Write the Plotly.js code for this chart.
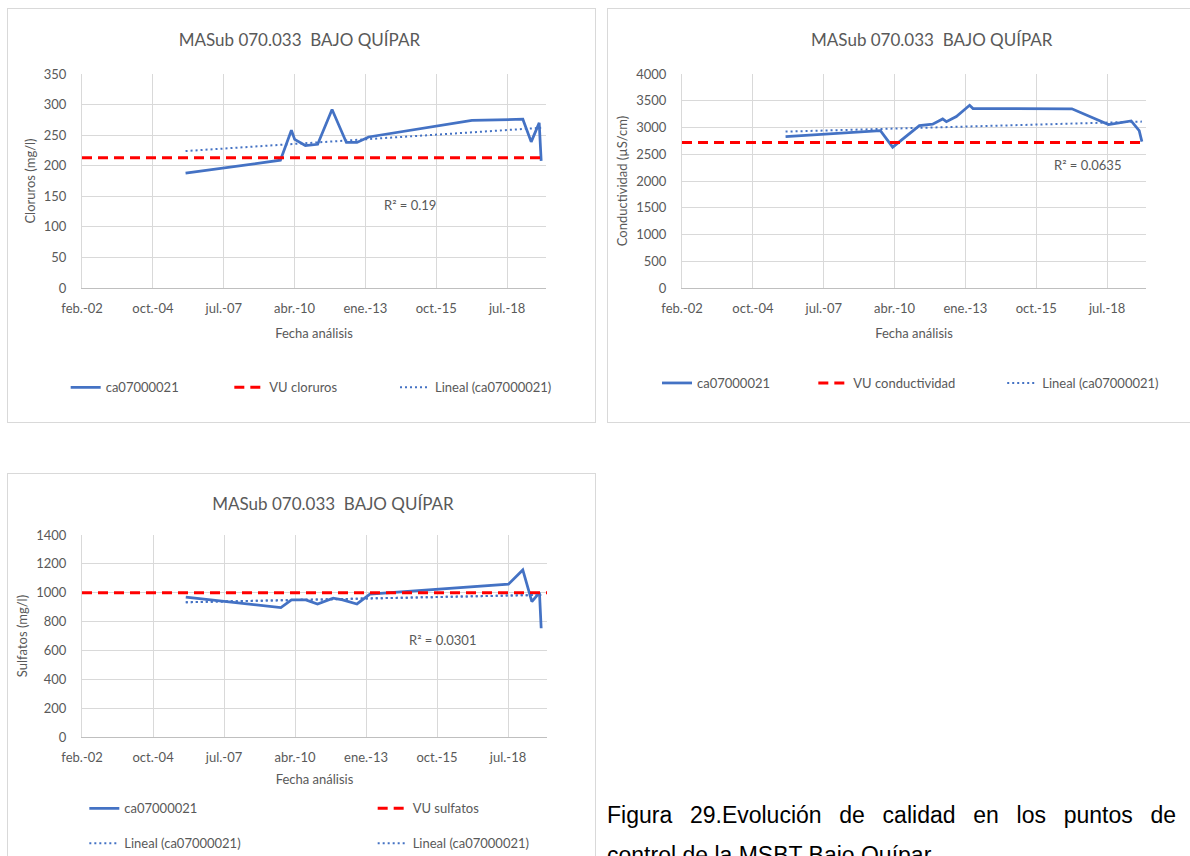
<!DOCTYPE html>
<html><head><meta charset="utf-8">
<script src="https://cdn.plot.ly/plotly-3.0.1.min.js"></script>
<style>
html,body{margin:0;padding:0;width:1190px;height:856px;overflow:hidden;background:#fff;}
.panel{position:absolute;box-sizing:border-box;border:1px solid #d9d9d9;pointer-events:none;}
.chart{position:absolute;}
#caption{position:absolute;left:607px;top:795px;width:569px;font-family:"Liberation Sans",Arial,sans-serif;font-size:23px;line-height:40px;color:#000;}
#caption .l1{text-align:justify;text-align-last:justify;}
</style></head>
<body>
<div id="c1" class="chart" style="left:7px;top:8px;width:588px;height:414px"></div>
<div id="c2" class="chart" style="left:607px;top:8px;width:583px;height:414px"></div>
<div id="c3" class="chart" style="left:7px;top:473px;width:588px;height:383px"></div>
<div class="panel" style="left:7px;top:8px;width:589px;height:415px"></div>
<div class="panel" style="left:607px;top:8px;width:600px;height:415px"></div>
<div class="panel" style="left:7px;top:473px;width:589px;height:400px"></div>
<div id="caption"><div class="l1">Figura 29.Evolución de calidad en los puntos de</div><div>control de la MSBT Bajo Quípar</div></div>
<script>
// ---- shared axis ----
const tickDates = ['2002-02-01','2004-10-28','2007-07-25','2010-04-20','2013-01-14','2015-10-11','2018-07-07'];
const tickLabels = ['feb.-02','oct.-04','jul.-07','abr.-10','ene.-13','oct.-15','jul.-18'];
const axisStart = '2002-01-31';
const axisEnd = '2020-01-07';
const chartTitle = 'MASub 070.033\u00A0 BAJO QUÍPAR';
const seriesName = 'ca07000021';
const trendName = 'Lineal (ca07000021)';
const xTitle = 'Fecha análisis';

// ---- Cloruros ----
const clorDates = ['2006-02-01','2009-10-02','2010-03-06','2010-04-21','2010-09-19','2011-03-12','2011-10-01','2012-04-20','2012-09-17','2013-02-28','2017-02-25','2019-02-14','2019-06-12','2019-10-03','2019-10-31'];
const clorValues = [188,209,258,243,233,235,292,238,238,247,274,276,239,270,208];
const clorLimit = 213;
const clorTrend = [224, 262];
const clorR2 = 'R² = 0.19';

// ---- Conductividad ----
const condDates = ['2006-02-01','2009-10-02','2010-03-24','2011-04-05','2011-10-09','2012-02-28','2012-04-20','2012-09-08','2013-03-14','2013-05-01','2017-02-25','2018-07-27','2019-06-12','2019-10-03','2019-11-10'];
const condValues = [2830,2942,2632,3035,3061,3160,3110,3204,3415,3353,3350,3055,3123,2942,2737];
const condLimit = 2720;
const condTrend = [2923, 3110];
const condR2 = 'R² = 0.0635';

// ---- Sulfatos ----
const sulfDates = ['2006-02-01','2009-10-02','2010-03-01','2010-09-19','2011-03-03','2011-10-09','2012-02-19','2012-09-08','2013-03-10','2018-07-13','2019-01-31','2019-06-08','2019-09-23','2019-10-17'];
const sulfValues = [969,897,950,950,922,962,950,922,990,1059,1158,938,1001,754];
const sulfLimit = 1000;
const sulfTrend = [934, 985];
const sulfR2 = 'R² = 0.0301';

const FONT = 'Lato, "Open Sans", sans-serif';
const GREY = '#595959';
const BLUE = '#4472C4';
const RED = '#FF0000';

function baseLayout(o){
  const legFont = {family:FONT,size:13,color:GREY};
  const lay = {
    width:o.w, height:o.h,
    margin:{l:o.m[0], r:o.m[1], t:o.m[2], b:o.m[3], autoexpand:false},
    paper_bgcolor:'#fff', plot_bgcolor:'#fff',
    font:{family:FONT,size:13,color:GREY},
    title:{text:chartTitle, font:{family:FONT,size:17,color:GREY}, xref:'container', yref:'container', x:o.tx, y:o.ty, xanchor:'center', yanchor:'middle'},
    xaxis:{type:'date', range:[axisStart, axisEnd], tickvals:tickDates, ticktext:tickLabels,
      showgrid:true, gridcolor:'#d9d9d9', gridwidth:1, showline:true, linecolor:'#bfbfbf', linewidth:1,
      zeroline:false, ticks:'outside', ticklen:8, tickcolor:'rgba(0,0,0,0)',
      tickfont:{family:FONT,size:13,color:GREY},
      title:{text:xTitle, font:{family:FONT,size:13,color:GREY}, standoff:o.xs}},
    yaxis:{range:o.yr, dtick:o.dt, tick0:0, showgrid:true, gridcolor:'#d9d9d9', gridwidth:1,
      showline:true, linecolor:'#d9d9d9', linewidth:1, zeroline:false,
      ticks:'outside', ticklen:12, tickcolor:'rgba(0,0,0,0)',
      tickfont:{family:FONT,size:13,color:GREY},
      title:{text:o.yTitle, font:{family:FONT,size:13,color:GREY}, standoff:5}},
    showlegend:true,
    annotations:[{text:o.r2, x:o.r2x, y:o.r2y, xref:'x', yref:'y', showarrow:false,
      font:{family:FONT,size:13,color:GREY}, xanchor:'center', yanchor:'middle'}]
  };
  o.legends.forEach((L,i)=>{
    const key = i===0 ? 'legend' : 'legend'+(i+1);
    lay[key] = {orientation:'h', xref:'container', yref:'container', x:L[0], y:L[1],
      xanchor:'left', yanchor:'middle', font:legFont, bgcolor:'rgba(0,0,0,0)'};
  });
  return lay;
}

function seriesTrace(d,v,leg){return {x:d,y:v,type:'scatter',mode:'lines',name:seriesName,line:{color:BLUE,width:2.75},legend:leg};}
function limitTrace(name,val,leg){return {x:[axisStart,axisEnd],y:[val,val],type:'scatter',mode:'lines',name:name,line:{color:RED,width:3,dash:'10px,6px'},legend:leg};}
function trendTrace(d,t,leg){return {x:[d[0],d[d.length-1]],y:t,type:'scatter',mode:'lines',name:trendName,line:{color:BLUE,width:2,dash:'2px,3px'},legend:leg};}

const cfg = {displayModeBar:false, staticPlot:true};

// Chart 1
Plotly.newPlot('c1', [
  seriesTrace(clorDates, clorValues, 'legend'),
  limitTrace('VU cloruros', clorLimit, 'legend2'),
  trendTrace(clorDates, clorTrend, 'legend3')
], baseLayout({w:588,h:414,m:[75,49,66,134],tx:0.4973,ty:0.9227,yr:[0,350],dt:50,xs:14,yTitle:'Cloruros (mg/l)',
  r2:clorR2,r2x:'2014-10-07',r2y:136,legends:[[0.0998,0.0838],[0.3781,0.0838],[0.6599,0.0838]]}), cfg);

// Chart 2
Plotly.newPlot('c2', [
  seriesTrace(condDates, condValues, 'legend'),
  limitTrace('VU conductividad', condLimit, 'legend2'),
  trendTrace(condDates, condTrend, 'legend3')
], baseLayout({w:583,h:414,m:[75,44,66,134],tx:0.5571,ty:0.9227,yr:[0,4000],dt:500,xs:14,yTitle:'Conductividad (µS/cm)',
  r2:condR2,r2x:'2017-09-27',r2y:2302,legends:[[0.0858,0.0942],[0.3539,0.0942],[0.6779,0.0942]]}), cfg);

// Chart 3
Plotly.newPlot('c3', [
  seriesTrace(sulfDates, sulfValues, 'legend'),
  limitTrace('VU sulfatos', sulfLimit, 'legend2'),
  trendTrace(sulfDates, sulfTrend, 'legend3'),
  trendTrace(sulfDates, sulfTrend, 'legend4')
], baseLayout({w:588,h:383,m:[75,48,62,119],tx:0.5544,ty:0.9183,yr:[0,1400],dt:200,xs:11,yTitle:'Sulfatos (mg/l)',
  r2:sulfR2,r2x:'2016-01-01',r2y:673,legends:[[0.1315,0.1245],[0.6219,0.1245],[0.1315,0.0332],[0.6219,0.0332]]}), cfg);
</script>
</body></html>
